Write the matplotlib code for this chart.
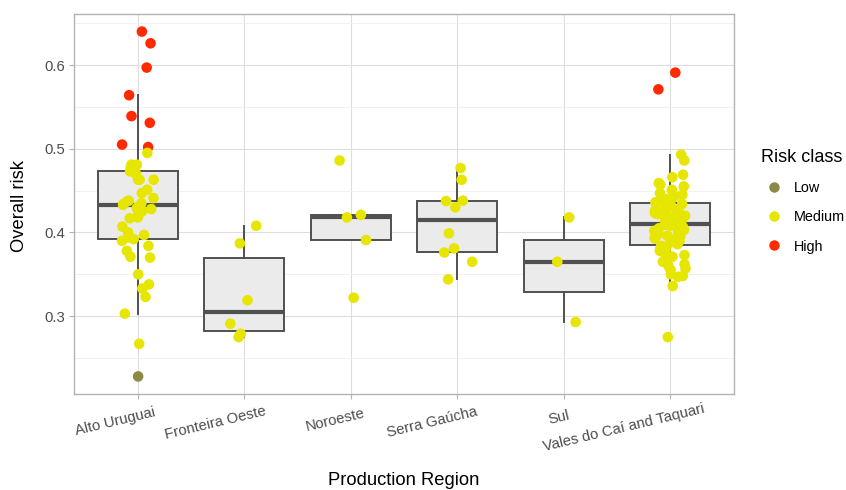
import numpy as np
import matplotlib
matplotlib.use('Agg')
import matplotlib.pyplot as plt
import matplotlib.transforms as mtransforms
from matplotlib.lines import Line2D

plt.rcParams['font.family'] = ['Liberation Sans', 'DejaVu Sans']

# Overall risk per vineyard.
regions = ["Alto Uruguai", "Fronteira Oeste", "Noroeste",
           "Serra Gaúcha", "Sul", "Vales do Caí and Taquari"]

alto_uruguai = [0.640, 0.626, 0.597, 0.564, 0.539, 0.531, 0.505, 0.502,
                0.495, 0.481, 0.481, 0.478, 0.473, 0.470, 0.463, 0.463,
                0.463, 0.451, 0.447, 0.441, 0.438, 0.437, 0.435, 0.434,
                0.433, 0.431, 0.429, 0.428, 0.425, 0.421, 0.418, 0.417,
                0.407, 0.400, 0.397, 0.394, 0.392, 0.390, 0.384, 0.378,
                0.371, 0.370, 0.350, 0.338, 0.333, 0.323, 0.303, 0.267,
                0.228]
fronteira_oeste = [0.408, 0.387, 0.319, 0.291, 0.279, 0.275]
noroeste = [0.486, 0.421, 0.418, 0.391, 0.322]
serra_gaucha = [0.477, 0.463, 0.438, 0.4375, 0.430, 0.399, 0.381, 0.376,
                0.365, 0.344]
sul = [0.418, 0.365, 0.293]
vales = [0.591, 0.571, 0.493, 0.486, 0.469, 0.466, 0.459, 0.457, 0.455,
         0.451, 0.447, 0.445, 0.443, 0.441, 0.440, 0.438, 0.437, 0.436,
         0.434, 0.432, 0.431, 0.429, 0.428, 0.426, 0.425, 0.423, 0.422,
         0.420, 0.419, 0.418, 0.416, 0.415, 0.413, 0.412, 0.411,
         0.409, 0.408, 0.407, 0.406, 0.405, 0.403, 0.402, 0.401, 0.399,
         0.398, 0.396, 0.395, 0.393, 0.391, 0.390, 0.388, 0.386, 0.384,
         0.382, 0.380, 0.378, 0.376, 0.373, 0.371, 0.368, 0.365, 0.362,
         0.360, 0.357, 0.355, 0.350, 0.348, 0.347, 0.336, 0.275]

groups = [alto_uruguai, fronteira_oeste, noroeste, serra_gaucha, sul, vales]

risk_classes = ["Low", "Medium", "High"]
class_colors = {"Low": "#8A8A45", "Medium": "#E6E600", "High": "#FF2A00"}


def risk_class(v):
    if v < 0.25:
        return "Low"
    if v >= 0.5:
        return "High"
    return "Medium"


fig = plt.figure(figsize=(8.46, 4.90), dpi=100)
ax = fig.add_axes([74 / 846, 1 - 394 / 490, 660 / 846, 380 / 490])

# boxes first, jittered points on top (outliers only shown as points)
bp = ax.boxplot(groups, positions=np.arange(1, 7), widths=0.75, whis=1.5,
                showfliers=False, showcaps=False, patch_artist=True,
                zorder=2)
for box in bp['boxes']:
    box.set(facecolor='#EBEBEB', edgecolor='#505050', linewidth=1.4)
for w in bp['whiskers']:
    w.set(color='#505050', linewidth=1.4)
for m in bp['medians']:
    m.set(color='#505050', linewidth=3.0)

rng = np.random.default_rng(7)
for i, vals in enumerate(groups):
    vals = np.array(vals)
    xs = i + 1 + rng.uniform(-0.15, 0.15, len(vals))
    cols = [class_colors[risk_class(v)] for v in vals]
    ax.scatter(xs, vals, s=58, c=cols, linewidths=0, zorder=3)

ax.set_xlim(0.4, 6.6)
ax.set_ylim(0.207, 0.661)
ax.set_xticks(np.arange(1, 7))
ax.set_xticklabels([])
ax.set_yticks([0.3, 0.4, 0.5, 0.6])
ax.set_yticklabels(["0.3", "0.4", "0.5", "0.6"])
ax.set_yticks([0.25, 0.35, 0.45, 0.55, 0.65], minor=True)
ax.tick_params(axis='both', which='major', length=3.5, width=0.8,
               color='#B3B3B3', labelsize=10.7, labelcolor='#4D4D4D', pad=3)
ax.tick_params(axis='y', which='minor', length=0)
ax.grid(True, which='major', color='#DEDEDE', linewidth=0.8, zorder=0)
ax.grid(True, which='minor', axis='y', color='#EFEFEF', linewidth=0.6,
        zorder=0)
ax.set_axisbelow(True)
for sp in ax.spines.values():
    sp.set_color('#B3B3B3')
    sp.set_linewidth(1.0)

# rotated category labels, anchored about 80% along the text
angle = 13.5
ca, sa = np.cos(np.deg2rad(angle)), np.sin(np.deg2rad(angle))
renderer = fig.canvas.get_renderer()
xtrans = ax.get_xaxis_transform()
for i, name in enumerate(regions):
    t = ax.text(i + 1, 0, name, fontsize=10.7, color='#4D4D4D',
                ha='right', va='top', rotation_mode='anchor',
                transform=xtrans)
    w = t.get_window_extent(renderer).width / fig.dpi
    t.set_rotation(angle)
    off = mtransforms.ScaledTranslation(0.2 * w * ca, 0.2 * w * sa - 0.15,
                                        fig.dpi_scale_trans)
    t.set_transform(xtrans + off)

fig.text(404 / 846, 1 - 480 / 490, "Production Region", fontsize=13.2,
         ha='center', va='center')
fig.text(20 / 846, 1 - 206 / 490, "Overall risk", fontsize=13.2,
         rotation=90, ha='center', va='center')

handles = [Line2D([], [], marker='o', linestyle='none', markersize=7.5,
                  markerfacecolor=class_colors[c], markeredgewidth=0)
           for c in risk_classes]
leg = fig.legend(handles, risk_classes, title="Risk class", loc='upper left',
                 bbox_to_anchor=(748 / 846, 1 - 136 / 490), frameon=False,
                 fontsize=10.4, title_fontsize=13, alignment='left',
                 handlelength=1.8, handletextpad=0.45, labelspacing=1.05)

fig.savefig("out.png", dpi=100)
